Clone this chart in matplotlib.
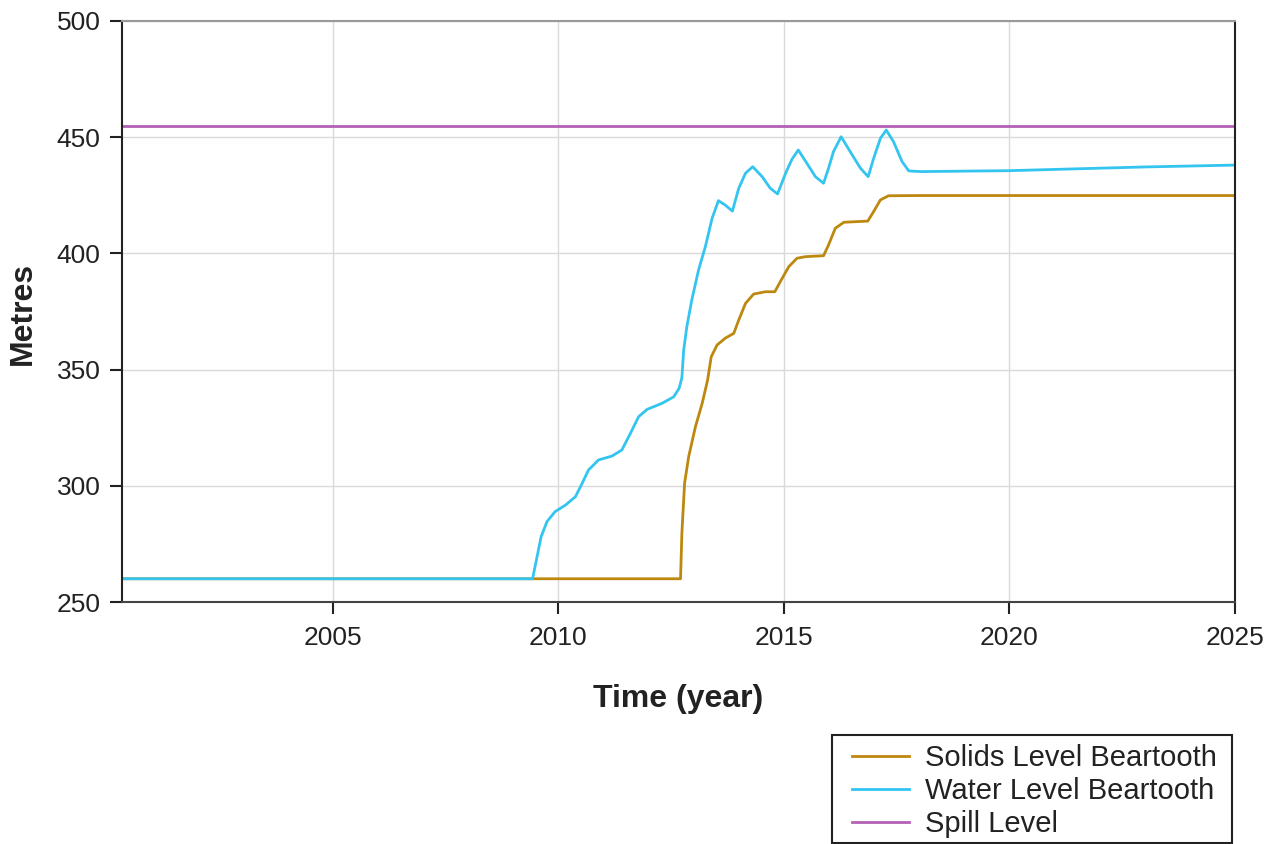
import matplotlib.pyplot as plt

plt.rcParams['font.family'] = ['Liberation Sans', 'DejaVu Sans']

# water level (year, metres)
water_year = [2000.33, 2009.43, 2009.53, 2009.62, 2009.75, 2009.93, 2010.16, 2010.38,
              2010.51, 2010.67, 2010.89, 2011.19, 2011.41, 2011.60, 2011.78, 2011.97,
              2012.30, 2012.56, 2012.68, 2012.74, 2012.78, 2012.85, 2012.96, 2013.11,
              2013.26, 2013.41, 2013.55, 2013.70, 2013.86, 2014.00, 2014.15, 2014.31,
              2014.52, 2014.70, 2014.86, 2015.05, 2015.18, 2015.32, 2015.51, 2015.70,
              2015.88, 2015.99, 2016.10, 2016.27, 2016.47, 2016.70, 2016.87, 2016.99,
              2017.14, 2017.27, 2017.43, 2017.62, 2017.77, 2018.03, 2020.0, 2021.5,
              2023.0, 2025.0]
water_level = [260.0, 260.0, 269.5, 278.1, 284.6, 288.9, 291.7, 295.3,
               300.3, 306.8, 311.1, 312.8, 315.4, 322.6, 329.7, 332.9,
               335.5, 338.3, 342.0, 346.5, 358.4, 368.5, 380.0, 392.9,
               402.9, 415.1, 422.7, 420.8, 418.2, 428.0, 434.5, 437.3,
               433.0, 428.0, 425.6, 435.0, 440.5, 444.5, 438.8, 433.0,
               430.2, 436.6, 443.8, 450.2, 443.8, 436.6, 433.0, 440.9,
               449.5, 453.1, 448.1, 439.5, 435.5, 435.2, 435.6, 436.4,
               437.2, 438.0]

# solids level (year, metres)
solids_year = [2000.33, 2012.71, 2012.74, 2012.80, 2012.89, 2013.04, 2013.19, 2013.31,
               2013.39, 2013.52, 2013.70, 2013.89, 2014.00, 2014.15, 2014.33, 2014.59,
               2014.80, 2014.92, 2015.11, 2015.29, 2015.48, 2015.88, 2015.99, 2016.14,
               2016.33, 2016.86, 2016.99, 2017.14, 2017.32, 2018.03, 2025.0]
solids_level = [260.0, 260.0, 279.6, 301.1, 312.5, 325.4, 335.5, 345.5,
                355.5, 360.6, 363.5, 365.6, 371.3, 378.5, 382.5, 383.5,
                383.5, 387.8, 394.3, 397.9, 398.6, 399.0, 403.6, 410.8,
                413.4, 413.9, 418.0, 423.0, 424.8, 424.9, 424.9]

spill_year = [2000.33, 2025.0]
spill_level = [455, 455]

W, H = 1278, 844
fig = plt.figure(figsize=(W / 100, H / 100), dpi=100)
ax = fig.add_axes([122 / W, 1 - 602 / H, (1235 - 122) / W, (602 - 21) / H])

ax.plot(solids_year, solids_level, color='#bd880f', lw=2, label='Solids Level Beartooth')
ax.plot(water_year, water_level, color='#33c5f0', lw=2, label='Water Level Beartooth')
ax.plot(spill_year, spill_level, color='#b460b4', lw=2, label='Spill Level')

ax.set_xlim(2000.33, 2025)
ax.set_ylim(250, 500)
ax.set_xticks([2005, 2010, 2015, 2020, 2025])
ax.set_yticks([250, 300, 350, 400, 450, 500])
ax.grid(True, color='#d9d9d9', lw=1)
ax.tick_params(axis='both', labelsize=19, length=8.5, width=1.5, color='#222222',
               labelcolor='#222222')
ax.tick_params(axis='y', pad=7)
ax.tick_params(axis='x', pad=9)

for side in ['left', 'right']:
    ax.spines[side].set_color('#222222')
    ax.spines[side].set_linewidth(1.5)
ax.spines['bottom'].set_color('#444444')
ax.spines['bottom'].set_linewidth(1.5)
ax.spines['top'].set_color('#999999')
ax.spines['top'].set_linewidth(1.5)

ax.set_xlabel('Time (year)', fontsize=23, fontweight='bold', labelpad=24, color='#222222')
fig.text(23 / W, 1 - 313 / H, 'Metres', rotation=90, ha='center', va='center',
         fontsize=23, fontweight='bold', color='#222222')

# legend below the plot, with its own box
fig.add_artist(plt.Rectangle((832 / W, 1 - 843 / H), 400 / W, 108 / H,
                             transform=fig.transFigure, fill=False,
                             edgecolor='#222222', lw=1.5))
fig.legend(loc='upper left', bbox_to_anchor=(852 / W, 1 - 744 / H),
           fontsize=21, frameon=False, handlelength=1.95, borderpad=0,
           labelspacing=0.17, handletextpad=0.55, borderaxespad=0,
           labelcolor='#222222')

fig.savefig('out.png', dpi=100)
